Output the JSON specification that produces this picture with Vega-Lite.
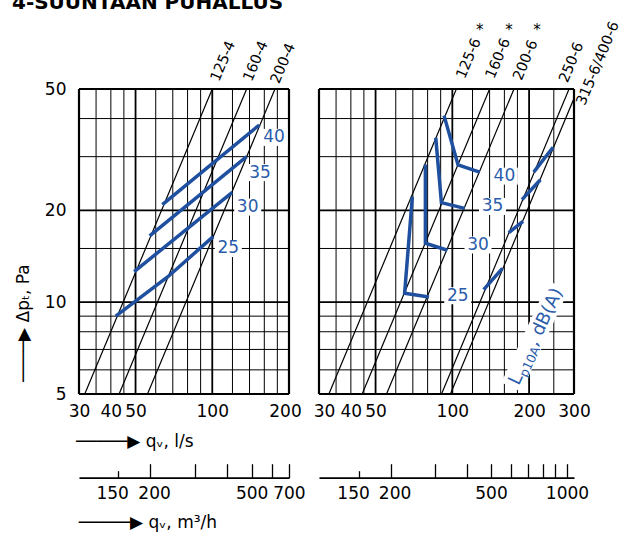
{
  "$schema": "https://vega.github.io/schema/vega-lite/v6.json",
  "width": 495,
  "height": 305,
  "autosize": {"type": "none"},
  "padding": {"left": 79, "top": 89, "right": 65, "bottom": 139},
  "background": "white",
  "title": {"text": "4-SUUNTAAN PUHALLUS", "anchor": "start", "frame": "group", "font": "DejaVu Sans", "fontSize": 20, "fontWeight": "bold", "color": "black", "dx": -67, "dy": -6, "offset": 0},
  "config": {
    "font": "DejaVu Sans",
    "view": {"stroke": null},
    "axis": {"labelFont": "DejaVu Sans", "labelFontSize": 17, "labelColor": "black", "titleFont": "DejaVu Sans", "titleFontSize": 17, "titleFontWeight": "normal", "titleColor": "black", "grid": false, "ticks": false, "domain": false, "labelOverlap": false, "labelFlush": false}
  },
  "datasets": {
    "gridL": [{"q": 30}, {"q": 35}, {"q": 40}, {"q": 45}, {"q": 50}, {"q": 60}, {"q": 70}, {"q": 80}, {"q": 90}, {"q": 100}, {"q": 120}, {"q": 140}, {"q": 160}, {"q": 180}, {"q": 200}],
    "gridR": [{"q": 30}, {"q": 35}, {"q": 40}, {"q": 45}, {"q": 50}, {"q": 60}, {"q": 70}, {"q": 80}, {"q": 90}, {"q": 100}, {"q": 120}, {"q": 140}, {"q": 160}, {"q": 180}, {"q": 200}, {"q": 250}, {"q": 300}],
    "hgrid": [{"dp": 5}, {"dp": 6}, {"dp": 7}, {"dp": 8}, {"dp": 9}, {"dp": 10}, {"dp": 15}, {"dp": 20}, {"dp": 30}, {"dp": 40}, {"dp": 50}],
    "curvesL": [
      {"name": "125-4", "q": 31.6, "dp": 5}, {"name": "125-4", "q": 100, "dp": 50},
      {"name": "160-4", "q": 43.1, "dp": 5}, {"name": "160-4", "q": 136.4, "dp": 50},
      {"name": "200-4", "q": 55.7, "dp": 5}, {"name": "200-4", "q": 176.2, "dp": 50}
    ],
    "curvesR": [
      {"name": "125-6", "q": 32.8, "dp": 5}, {"name": "125-6", "q": 103.7, "dp": 50},
      {"name": "160-6", "q": 44.3, "dp": 5}, {"name": "160-6", "q": 140, "dp": 50},
      {"name": "200-6", "q": 55.2, "dp": 5}, {"name": "200-6", "q": 174.5, "dp": 50},
      {"name": "250-6", "q": 90.7, "dp": 5}, {"name": "250-6", "q": 286.9, "dp": 50},
      {"name": "315-6/400-6", "q": 98.3, "dp": 5}, {"name": "315-6/400-6", "q": 310.8, "dp": 50}
    ],
    "soundL": [
      {"level": 25, "seg": "a", "i": 0, "q": 41.8, "dp": 9.0}, {"level": 25, "seg": "a", "i": 1, "q": 66.8, "dp": 12.1}, {"level": 25, "seg": "a", "i": 2, "q": 100.8, "dp": 16.4},
      {"level": 30, "seg": "a", "i": 0, "q": 49.4, "dp": 12.6}, {"level": 30, "seg": "a", "i": 1, "q": 119.8, "dp": 22.9},
      {"level": 35, "seg": "a", "i": 0, "q": 56.8, "dp": 16.5}, {"level": 35, "seg": "a", "i": 1, "q": 136.4, "dp": 30.0},
      {"level": 40, "seg": "a", "i": 0, "q": 63.7, "dp": 20.9}, {"level": 40, "seg": "a", "i": 1, "q": 152.9, "dp": 38.1}
    ],
    "soundR": [
      {"level": 40, "seg": "a", "i": 0, "q": 92.8, "dp": 40.9}, {"level": 40, "seg": "a", "i": 1, "q": 105.3, "dp": 28.2}, {"level": 40, "seg": "a", "i": 2, "q": 128.0, "dp": 26.7},
      {"level": 40, "seg": "b", "i": 0, "q": 208.5, "dp": 26.7}, {"level": 40, "seg": "b", "i": 1, "q": 248.3, "dp": 32.2},
      {"level": 35, "seg": "a", "i": 0, "q": 86.1, "dp": 34.6}, {"level": 35, "seg": "a", "i": 1, "q": 90.6, "dp": 21.2}, {"level": 35, "seg": "a", "i": 2, "q": 111.8, "dp": 20.3},
      {"level": 35, "seg": "b", "i": 0, "q": 187.6, "dp": 21.7}, {"level": 35, "seg": "b", "i": 1, "q": 221.5, "dp": 25.2},
      {"level": 30, "seg": "a", "i": 0, "q": 78.4, "dp": 28.3}, {"level": 30, "seg": "a", "i": 1, "q": 78.4, "dp": 15.6}, {"level": 30, "seg": "a", "i": 2, "q": 95.6, "dp": 14.8},
      {"level": 30, "seg": "b", "i": 0, "q": 166.4, "dp": 16.9}, {"level": 30, "seg": "b", "i": 1, "q": 189.3, "dp": 18.4},
      {"level": 25, "seg": "a", "i": 0, "q": 69.7, "dp": 22.2}, {"level": 25, "seg": "a", "i": 1, "q": 65.0, "dp": 10.7}, {"level": 25, "seg": "a", "i": 2, "q": 81.0, "dp": 10.4},
      {"level": 25, "seg": "b", "i": 0, "q": 132.7, "dp": 11.0}, {"level": 25, "seg": "b", "i": 1, "q": 157.2, "dp": 12.9}
    ],
    "labelsL": [{"t": "40", "q": 174.6, "dp": 34.7}, {"t": "35", "q": 153.9, "dp": 26.6}, {"t": "30", "q": 137.7, "dp": 20.5}, {"t": "25", "q": 115.6, "dp": 15.0}],
    "labelsR": [{"t": "40", "q": 160, "dp": 25.9}, {"t": "35", "q": 143.7, "dp": 20.6}, {"t": "30", "q": 126.1, "dp": 15.4}, {"t": "25", "q": 105, "dp": 10.5}],
    "namesL": [{"name": "125-4", "q": 102.8, "dp": 53.2}, {"name": "160-4", "q": 138.1, "dp": 53.2}, {"name": "200-4", "q": 176.8, "dp": 52.3}],
    "namesR": [{"name": "125-6", "q": 108.2, "dp": 54.3}, {"name": "160-6", "q": 141.0, "dp": 54.3}, {"name": "200-6", "q": 180.5, "dp": 53.6}, {"name": "250-6", "q": 273.4, "dp": 52.7}, {"name": "315-6/400-6", "q": 319.8, "dp": 44.4}],
    "stars": [{"name": "125-6", "q": 128.0, "dp": 78.3}, {"name": "160-6", "q": 166.8, "dp": 78.3}, {"name": "200-6", "q": 214.8, "dp": 78.3}],
    "lpText": [{"t": "L", "part": "main", "q": 182.0, "dp": 5.31}, {"t": "p10A", "part": "sub", "q": 195.7, "dp": 5.63}, {"t": ", dB(A)", "part": "main", "q": 214.4, "dp": 7.12}],
    "lpBox": [{"q": 211, "dp": 7.73}],
    "m3L": [{"m3h": 150}, {"m3h": 200}, {"m3h": 300}, {"m3h": 400}, {"m3h": 500}, {"m3h": 600}, {"m3h": 700}],
    "m3R": [{"m3h": 150}, {"m3h": 200}, {"m3h": 300}, {"m3h": 400}, {"m3h": 500}, {"m3h": 600}, {"m3h": 700}, {"m3h": 800}, {"m3h": 900}, {"m3h": 1000}]
  },
  "resolve": {"scale": {"x": "independent"}, "axis": {"x": "independent"}},
  "layer": [
    {
      "layer": [
        {
          "data": {"name": "gridL"},
          "mark": {"type": "rule", "color": "black"},
          "encoding": {
            "x": {"field": "q", "type": "quantitative", "scale": {"type": "log", "domain": [30, 200], "range": [0, 210], "nice": false},
              "axis": {"orient": "bottom", "values": [30, 40, 50, 100, 200], "format": "d", "labelPadding": 9,
                "labelOffset": {"condition": {"test": "datum.value == 200", "value": -4}, "value": 0},
                "title": "─────▶  qᵥ, l/s", "titleAlign": "left", "titleAnchor": "start", "titleBaseline": "alphabetic", "titleX": -3.5, "titleY": 52.7}},
            "y": {"datum": 5, "type": "quantitative", "scale": {"type": "log", "domain": [5, 50], "nice": false},
              "axis": {"orient": "left", "values": [5, 10, 20, 50], "format": "d", "labelPadding": 13, "labelBaseline": "middle",
                "title": "────▶ Δpₜ, Pa", "titleAngle": 270, "titleAlign": "left", "titleAnchor": "start", "titleBaseline": "alphabetic", "titleX": -50.5, "titleY": 292.4}},
            "y2": {"datum": 50},
            "strokeWidth": {"condition": [{"test": "datum.q == 30 || datum.q == 200", "value": 2.2}, {"test": "datum.q == 50 || datum.q == 100", "value": 1.8}], "value": 1}
          }
        },
        {
          "data": {"name": "hgrid"},
          "mark": {"type": "rule", "color": "black"},
          "encoding": {
            "y": {"field": "dp", "type": "quantitative"},
            "x": {"datum": 30},
            "x2": {"datum": 200},
            "strokeWidth": {"condition": [{"test": "datum.dp == 5 || datum.dp == 50", "value": 2.2}, {"test": "datum.dp == 10 || datum.dp == 20", "value": 1.8}], "value": 1}
          }
        },
        {
          "data": {"name": "curvesL"},
          "mark": {"type": "line", "color": "black", "strokeWidth": 1.2},
          "encoding": {"x": {"field": "q", "type": "quantitative"}, "y": {"field": "dp", "type": "quantitative"}, "detail": {"field": "name"}}
        },
        {
          "data": {"name": "labelsL"},
          "mark": {"type": "point", "shape": "M-1,-0.63L1,-0.63L1,0.63L-1,0.63Z", "filled": true, "color": "white", "opacity": 1, "size": 729, "strokeWidth": 0},
          "encoding": {"x": {"field": "q", "type": "quantitative"}, "y": {"field": "dp", "type": "quantitative"}}
        },
        {
          "data": {"name": "soundL"},
          "mark": {"type": "line", "color": "#1f4f9f", "strokeWidth": 3.5, "strokeCap": "butt"},
          "encoding": {"x": {"field": "q", "type": "quantitative"}, "y": {"field": "dp", "type": "quantitative"}, "detail": [{"field": "level"}, {"field": "seg"}], "order": {"field": "i"}}
        },
        {
          "data": {"name": "labelsL"},
          "mark": {"type": "text", "color": "#2b5cab", "fontSize": 17, "align": "center", "baseline": "middle"},
          "encoding": {"x": {"field": "q", "type": "quantitative"}, "y": {"field": "dp", "type": "quantitative"}, "text": {"field": "t"}}
        },
        {
          "data": {"name": "namesL"},
          "mark": {"type": "text", "color": "black", "fontSize": 14.5, "angle": 292.7, "align": "left", "baseline": "middle"},
          "encoding": {"x": {"field": "q", "type": "quantitative"}, "y": {"field": "dp", "type": "quantitative"}, "text": {"field": "name"}}
        }
      ]
    },
    {
      "layer": [
        {
          "data": {"name": "gridR"},
          "mark": {"type": "rule", "color": "black"},
          "encoding": {
            "x": {"field": "q", "type": "quantitative", "scale": {"type": "log", "domain": [30, 300], "range": [240, 495], "nice": false},
              "axis": {"orient": "bottom", "values": [30, 40, 50, 100, 200, 300], "format": "d", "labelPadding": 9,
                "labelOffset": {"condition": {"test": "datum.value == 30", "value": 5}, "value": 0}, "title": null}},
            "y": {"datum": 5, "type": "quantitative"},
            "y2": {"datum": 50},
            "strokeWidth": {"condition": [{"test": "datum.q == 30 || datum.q == 300", "value": 2.2}, {"test": "datum.q == 50 || datum.q == 100 || datum.q == 200", "value": 1.8}], "value": 1}
          }
        },
        {
          "data": {"name": "hgrid"},
          "mark": {"type": "rule", "color": "black"},
          "encoding": {
            "y": {"field": "dp", "type": "quantitative"},
            "x": {"datum": 30},
            "x2": {"datum": 300},
            "strokeWidth": {"condition": [{"test": "datum.dp == 5 || datum.dp == 50", "value": 2.2}, {"test": "datum.dp == 10 || datum.dp == 20", "value": 1.8}], "value": 1}
          }
        },
        {
          "data": {"name": "curvesR"},
          "mark": {"type": "line", "color": "black", "strokeWidth": 1.2, "clip": true},
          "encoding": {"x": {"field": "q", "type": "quantitative"}, "y": {"field": "dp", "type": "quantitative"}, "detail": {"field": "name"}}
        },
        {
          "data": {"name": "labelsR"},
          "mark": {"type": "point", "shape": "M-1,-0.63L1,-0.63L1,0.63L-1,0.63Z", "filled": true, "color": "white", "opacity": 1, "size": 729, "strokeWidth": 0},
          "encoding": {"x": {"field": "q", "type": "quantitative"}, "y": {"field": "dp", "type": "quantitative"}}
        },
        {
          "data": {"name": "lpBox"},
          "mark": {"type": "point", "shape": "M-1,-0.196L1,-0.196L1,0.196L-1,0.196Z", "filled": true, "color": "white", "opacity": 1, "size": 12544, "strokeWidth": 0, "angle": 295},
          "encoding": {"x": {"field": "q", "type": "quantitative"}, "y": {"field": "dp", "type": "quantitative"}}
        },
        {
          "data": {"name": "soundR"},
          "mark": {"type": "line", "color": "#1f4f9f", "strokeWidth": 3.5, "strokeCap": "butt"},
          "encoding": {"x": {"field": "q", "type": "quantitative"}, "y": {"field": "dp", "type": "quantitative"}, "detail": [{"field": "level"}, {"field": "seg"}], "order": {"field": "i"}}
        },
        {
          "data": {"name": "labelsR"},
          "mark": {"type": "text", "color": "#2b5cab", "fontSize": 17, "align": "center", "baseline": "middle"},
          "encoding": {"x": {"field": "q", "type": "quantitative"}, "y": {"field": "dp", "type": "quantitative"}, "text": {"field": "t"}}
        },
        {
          "data": {"name": "lpText"},
          "mark": {"type": "text", "color": "#2b5cab", "angle": 295, "align": "left", "baseline": "alphabetic"},
          "encoding": {"x": {"field": "q", "type": "quantitative"}, "y": {"field": "dp", "type": "quantitative"}, "text": {"field": "t"},
            "size": {"condition": {"test": "datum.part == 'sub'", "value": 12.5}, "value": 18}}
        },
        {
          "data": {"name": "namesR"},
          "mark": {"type": "text", "color": "black", "fontSize": 14.5, "angle": 292.7, "align": "left", "baseline": "middle"},
          "encoding": {"x": {"field": "q", "type": "quantitative"}, "y": {"field": "dp", "type": "quantitative"}, "text": {"field": "name"}}
        },
        {
          "data": {"name": "stars"},
          "mark": {"type": "text", "color": "black", "fontSize": 15, "align": "center", "baseline": "middle", "text": "*"},
          "encoding": {"x": {"field": "q", "type": "quantitative"}, "y": {"field": "dp", "type": "quantitative"}}
        }
      ]
    },
    {
      "data": {"name": "m3L"},
      "mark": {"type": "point", "opacity": 0},
      "encoding": {
        "x": {"field": "m3h", "type": "quantitative", "scale": {"type": "log", "domain": [105.3, 700.5], "range": [0, 210], "nice": false},
          "axis": {"orient": "bottom", "offset": 83.7, "values": [150, 200, 300, 400, 500, 600, 700], "format": "d",
            "domain": true, "domainColor": "black", "domainWidth": 1.7, "ticks": true, "tickColor": "black", "tickWidth": 1.3,
            "tickSize": {"condition": {"test": "datum.value == 150", "value": -7}, "value": -14},
            "labelPadding": {"condition": {"test": "datum.value == 150", "value": 15}, "value": 22},
            "labelOffset": {"condition": [{"test": "datum.value == 150", "value": -6}, {"test": "datum.value == 200", "value": 4}], "value": 0},
            "labelExpr": "indexof([150, 200, 500, 700], datum.value) >= 0 ? datum.label : ''",
            "title": "─────▶   qᵥ, m³/h", "titleAlign": "left", "titleAnchor": "start", "titleBaseline": "alphabetic", "titleX": -0.7, "titleY": 49.3}}
      }
    },
    {
      "data": {"name": "m3R"},
      "mark": {"type": "point", "opacity": 0},
      "encoding": {
        "x": {"field": "m3h", "type": "quantitative", "scale": {"type": "log", "domain": [104.1, 1066], "range": [240, 495], "nice": false},
          "axis": {"orient": "bottom", "offset": 83.7, "values": [150, 200, 300, 400, 500, 600, 700, 800, 900, 1000], "format": "d",
            "domain": true, "domainColor": "black", "domainWidth": 1.7, "ticks": true, "tickColor": "black", "tickWidth": 1.3,
            "tickSize": {"condition": {"test": "datum.value == 150", "value": -7}, "value": -14},
            "labelPadding": {"condition": {"test": "datum.value == 150", "value": 15}, "value": 22},
            "labelOffset": {"condition": [{"test": "datum.value == 150", "value": -6}, {"test": "datum.value == 200", "value": 4}], "value": 0},
            "labelExpr": "indexof([150, 200, 500, 1000], datum.value) >= 0 ? datum.label : ''",
            "title": null}}
      }
    }
  ]
}
